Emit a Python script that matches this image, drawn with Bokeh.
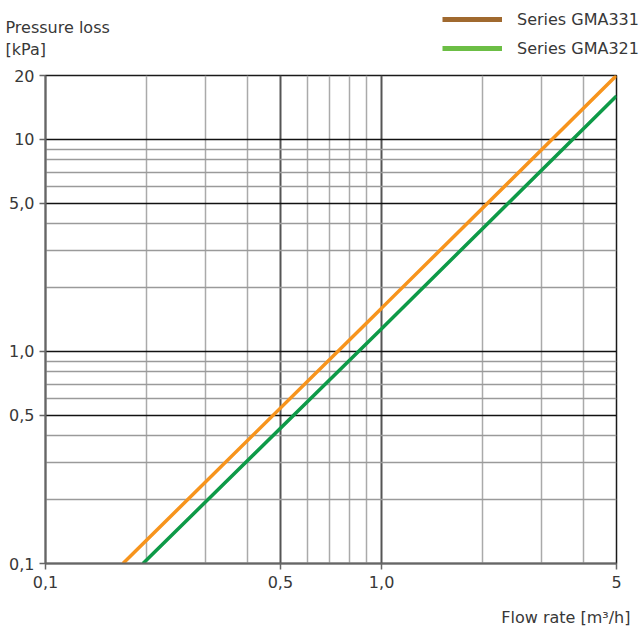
from bokeh.plotting import figure
from bokeh.layouts import column
from bokeh.models import Range1d, FixedTicker, Label, Legend, LegendItem
from bokeh.embed import file_html
from bokeh.resources import INLINE

# ---- data ----
flow_gma331 = [0.17, 1.0, 5.0]
loss_gma331 = [0.1, 1.6, 20.0]
flow_gma321 = [0.195, 1.0, 5.0]
loss_gma321 = [0.1, 1.28, 16.0]

series_names = ["Series GMA331", "Series GMA321"]

x_ticks = [0.1, 0.5, 1.0, 5.0]
x_tick_labels = ["0,1", "0,5", "1,0", "5"]
y_ticks = [0.1, 0.5, 1.0, 5.0, 10.0, 20.0]
y_tick_labels = ["0,1", "0,5", "1,0", "5,0", "10", "20"]

x_grid_major = [0.5, 1.0]
x_grid_minor = [0.2, 0.3, 0.4, 0.6, 0.7, 0.8, 0.9, 2.0, 3.0, 4.0]
y_grid_major = [0.5, 1.0, 5.0, 10.0]
y_grid_minor = [0.2, 0.3, 0.4, 0.6, 0.7, 0.8, 0.9, 2.0, 3.0, 4.0, 6.0, 7.0, 8.0, 9.0]

FONT = "DejaVu Sans"
FS = "16px"
TXT = "#383838"
W = 643
HEAD_H = 63
MAIN_H = 533
FOOT_H = 32
NAN = float("nan")


def blank(height):
    f = figure(width=W, height=height, x_range=Range1d(0, W), y_range=Range1d(height, 0),
               x_axis_location=None, y_axis_location=None,
               output_backend="svg", toolbar_location=None,
               min_border=0, min_border_left=0, min_border_right=0,
               min_border_top=0, min_border_bottom=0, frame_align=False)
    f.grid.visible = False
    f.outline_line_color = None
    return f


# ---- header: y-axis title and legend ----
head = blank(HEAD_H)
head.add_layout(Label(x=5, y=27, text="Pressure loss", text_font=FONT, text_font_size=FS,
                      text_color=TXT, text_baseline="alphabetic"))
head.add_layout(Label(x=5, y=49, text="[kPa]", text_font=FONT, text_font_size=FS,
                      text_color=TXT, text_baseline="alphabetic"))
d331 = head.line([NAN], [NAN], line_color="#A0692F", line_width=5)
d321 = head.line([NAN], [NAN], line_color="#6CBE45", line_width=5)
legend = Legend(items=[LegendItem(label=series_names[0], renderers=[d331]),
                       LegendItem(label=series_names[1], renderers=[d321])],
                location=(442, HEAD_H - 58), orientation="vertical",
                glyph_width=60, glyph_height=20, label_height=20,
                label_standoff=15, spacing=9, padding=0, margin=0,
                border_line_color=None, background_fill_alpha=0,
                label_text_font=FONT, label_text_font_size=FS,
                label_text_color=TXT)
head.add_layout(legend)

# ---- main chart ----
p = figure(width=W, height=MAIN_H,
           x_axis_type="log", y_axis_type="log",
           x_range=Range1d(0.1, 5.0), y_range=Range1d(0.1, 20.0),
           output_backend="svg", toolbar_location=None,
           min_border_left=45, min_border_right=27,
           min_border_top=12, min_border_bottom=33, frame_align=False)

p.outline_line_color = "#1a1a1a"
p.outline_line_width = 1.5

p.xgrid.ticker = FixedTicker(ticks=x_grid_major, minor_ticks=x_grid_minor)
p.xgrid.grid_line_color = "#555555"
p.xgrid.grid_line_width = 2
p.xgrid.minor_grid_line_color = "#aaaaaa"
p.xgrid.minor_grid_line_width = 1.5

p.ygrid.ticker = FixedTicker(ticks=y_grid_major, minor_ticks=y_grid_minor)
p.ygrid.grid_line_color = "#111111"
p.ygrid.grid_line_width = 1.5
p.ygrid.minor_grid_line_color = "#9a9a9a"
p.ygrid.minor_grid_line_width = 1.5

p.xaxis.ticker = FixedTicker(ticks=x_ticks)
p.yaxis.ticker = FixedTicker(ticks=y_ticks)
p.xaxis.major_label_overrides = dict(zip(x_ticks, x_tick_labels))
p.yaxis.major_label_overrides = dict(zip(y_ticks, y_tick_labels))
for ax in (p.xaxis[0], p.yaxis[0]):
    ax.axis_line_color = "#666666"
    ax.axis_line_width = 2
    ax.major_tick_line_color = "#666666"
    ax.major_tick_line_width = 1.5
    ax.major_tick_out = 6
    ax.major_tick_in = 0
    ax.minor_tick_out = 0
    ax.minor_tick_in = 0
    ax.major_label_text_font = FONT
    ax.major_label_text_font_size = FS
    ax.major_label_text_color = TXT
p.xaxis.major_label_standoff = 6
p.yaxis.major_label_standoff = 5

p.line(flow_gma331, loss_gma331, line_color="#F7941D", line_width=3.5)
p.line(flow_gma321, loss_gma321, line_color="#0E9A48", line_width=3.5)

# ---- footer: x-axis title ----
foot = blank(FOOT_H)
foot.add_layout(Label(x=630, y=21, text="Flow rate [m³/h]", text_font=FONT, text_font_size=FS,
                      text_color=TXT, text_baseline="alphabetic", text_align="right"))

layout = column(head, p, foot, spacing=0)
open("out.html", "w").write(file_html(layout, INLINE))
